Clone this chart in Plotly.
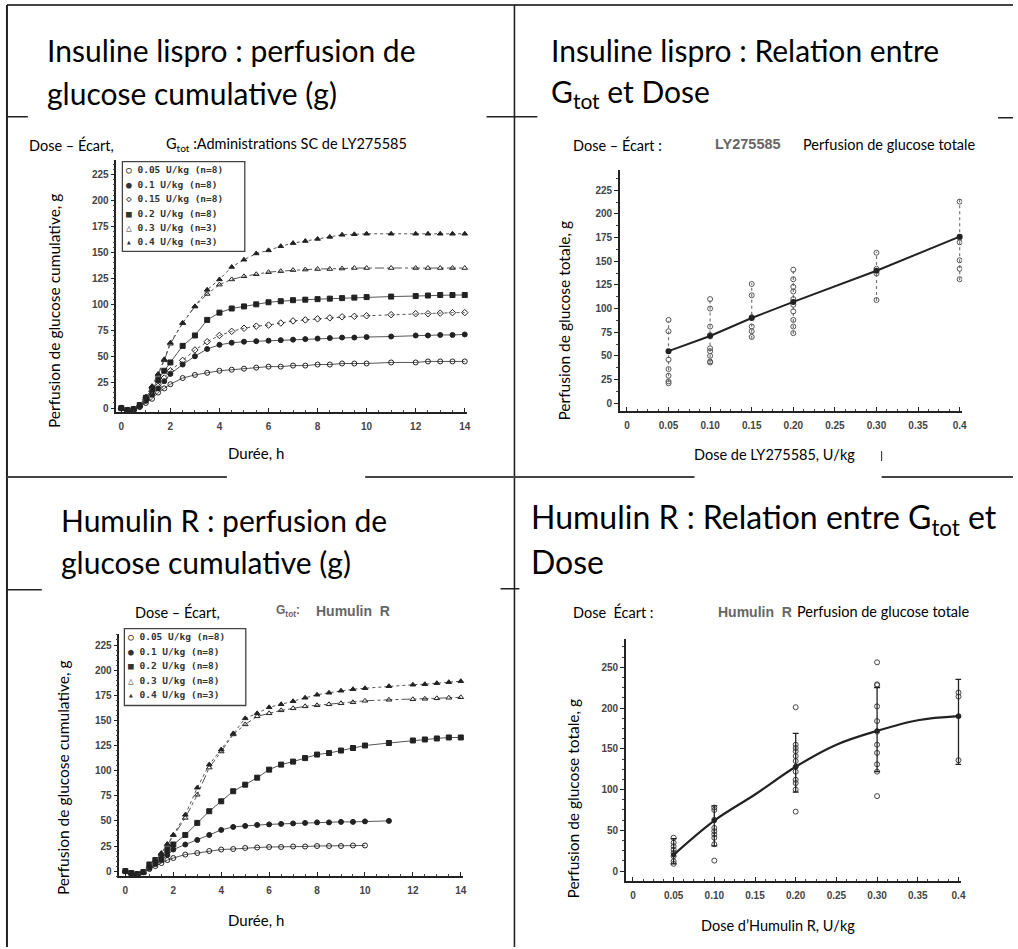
import plotly.graph_objects as go

W, H = 1018, 949

# ---------------- data ----------------
time_h = [0, 0.25, 0.5, 0.75, 1, 1.25, 1.5, 1.75, 2, 2.5, 3, 3.5, 4, 4.5, 5, 5.5, 6,
          6.5, 7, 7.5, 8, 8.5, 9, 9.5, 10, 11, 12, 12.5, 13, 13.5, 14]

lispro_labels = ["0.05 U/kg (n=8)", "0.1 U/kg (n=8)", "0.15 U/kg (n=8)",
                 "0.2 U/kg (n=8)", "0.3 U/kg (n=3)", "0.4 U/kg (n=3)"]
lispro_005 = [0, -2, -2, 1, 5, 9, 15, 19, 23, 29, 32, 34, 36, 37, 38, 39, 40, 40, 41, 41,
              42, 42, 43, 43, 43, 44, 44, 45, 45, 45, 45]
lispro_010 = [0, -2, -1, 2, 7, 13, 19, 26, 33, 42, 50, 57, 61, 63, 64, 64.5, 65, 65.5, 66,
              66.5, 67, 67.5, 68, 68, 68.5, 69, 70, 70, 70.5, 70.5, 71]
lispro_015 = [0, -2, -1, 2, 8, 14, 21, 29, 36, 46, 56, 64, 70, 74, 77, 79, 80, 82, 84, 85,
              86, 87, 88, 88.5, 89, 90, 91, 91, 91.5, 92, 92]
lispro_020 = [0, -2, -1, 3, 10, 18, 27, 36, 44, 60, 70, 85, 92, 96, 98, 100, 102, 103, 104,
              104.5, 105, 105.5, 106, 106.5, 107, 107.5, 108, 108.5, 109, 109, 109]
lispro_030 = [0, -2, -1, 3, 11, 21, 32, 46, 62, 82, 98, 110, 119, 124, 127, 129, 131, 132,
              133, 133.5, 134, 134, 134.5, 135, 135, 135, 135, 135, 135, 135, 135]
lispro_040 = [0, -2, -1, 3, 11, 21, 33, 47, 63, 82, 98, 114, 124, 136, 143, 149, 152, 156,
              159, 161, 163, 165, 167, 167.5, 168, 168, 168, 168, 168, 168, 168]

humulin_labels = ["0.05 U/kg (n=8)", "0.1 U/kg (n=8)", "0.2 U/kg (n=8)",
                  "0.3 U/kg (n=8)", "0.4 U/kg (n=3)"]
humulin_005 = [0, -2, -3, -1, 2, 5, 8, 11, 13, 16.5, 18, 20, 21.5, 22, 23, 23.5, 24, 24,
               24.5, 24.5, 25, 25, 25, 25.5, 25.5, None, None, None, None, None, None]
humulin_010 = [0, -2, -3, -1, 3, 7, 11, 16, 21.5, 26.5, 31, 36, 41, 44, 45, 46, 46.5, 47,
               47.5, 48, 48.5, 48.5, 49, 49, 49.5, 50, None, None, None, None, None]
humulin_020 = [0, -2, -3, -1, 6.6, 11, 15, 21, 26.5, 36, 48, 59.6, 69.5, 79.5, 86, 93, 101,
               106, 109, 112.5, 116, 117.5, 120, 122.5, 125, 127.5, 130, 131, 132, 133, 133]
humulin_030 = [0, -2, -3, -1, 5, 10, 17, 26, 36, 53, 76, 103, 119, 136, 146, 154, 157, 160,
               162, 164, 165, 166, 167, 168, 169.5, 170.5, 171, 171.5, 172, 172.5, 173]
humulin_040 = [0, -2, -3, -1, 5, 11, 18, 27, 36, 56, 83, 106, 121, 137, 152, 157, 163, 166,
               169, 172.5, 175.5, 177.5, 179.5, 181, 182, 184, 185.5, 186, 187, 188, 189]

# total glucose vs dose – lispro
dose_lispro = [0.05, 0.10, 0.15, 0.20, 0.30, 0.40]
mean_lispro = [55, 71, 90, 107, 140, 176]
errp_lispro = [32, 39, 37, 35, 20, 40]
errm_lispro = [33, 29, 22, 34, 32, 46]
indiv_lispro = [[88, 76, 46, 36, 29, 23, 21],
                [110, 100, 81, 72, 58, 55, 50, 44, 43],
                [126, 114, 91, 81, 76, 70],
                [141, 131, 123, 118, 110, 104, 97, 88, 81, 74],
                [159, 142, 137, 109],
                [213, 175, 170, 151, 142, 131]]

# total glucose vs dose – Humulin R
dose_humulin = [0.05, 0.10, 0.20, 0.30, 0.40]
mean_humulin = [20, 62, 128, 172, 190]
errp_humulin = [20, 18, 41, 53, 45]
errm_humulin = [11, 31, 31, 50, 59]
indiv_humulin = [[41, 35, 30.6, 26.5, 22.4, 18.4, 12.2, 9],
                 [78, 75, 63, 53, 49, 45, 41, 33, 13],
                 [201, 155, 151, 147, 141, 135, 128, 122, 112, 108, 100, 73],
                 [256, 229, 228, 202, 184, 171, 155, 145, 131, 122, 92],
                 [219, 214, 190, 136]]
fit_dose_humulin = [0.05, 0.10, 0.15, 0.20, 0.25, 0.30, 0.35, 0.40]
fit_humulin = [20, 62, 94, 128, 155, 172, 185, 190]

dose_ticks = [0, 0.05, 0.10, 0.15, 0.20, 0.25, 0.30, 0.35, 0.40]
dose_ticktext = ["0", "0.05", "0.10", "0.15", "0.20", "0.25", "0.30", "0.35", "0.4"]
time_ticks = [0, 2, 4, 6, 8, 10, 12, 14]

# ---------------- helpers ----------------
def px(x):
    return x / W


def py(y):
    return 1 - y / H


TXT = "Lato"
SCAN = "Liberation Sans"
INK = "#222222"
LINE = "#555555"

fig = go.Figure()

sym_l = ["circle-open", "circle", "diamond-open", "square", "triangle-up-open", "triangle-up"]
dash_l = ["solid", "solid", "dot", "solid", "dashdot", "dot"]
for lab, ys, s, d in zip(lispro_labels,
                         [lispro_005, lispro_010, lispro_015, lispro_020, lispro_030, lispro_040],
                         sym_l, dash_l):
    fig.add_trace(go.Scatter(x=time_h, y=ys, name=lab, mode="lines+markers",
                             xaxis="x", yaxis="y", cliponaxis=False,
                             line=dict(color=LINE, width=1, dash=d),
                             marker=dict(symbol=s, size=5, color=INK, line=dict(width=1, color=INK))))

sym_h = ["circle-open", "circle", "square", "triangle-up-open", "triangle-up"]
dash_h = ["solid", "solid", "solid", "dashdot", "dot"]
for lab, ys, s, d in zip(humulin_labels,
                         [humulin_005, humulin_010, humulin_020, humulin_030, humulin_040],
                         sym_h, dash_h):
    fig.add_trace(go.Scatter(x=time_h, y=ys, name=lab, mode="lines+markers",
                             xaxis="x3", yaxis="y3", cliponaxis=False, connectgaps=False,
                             line=dict(color=LINE, width=1, dash=d),
                             marker=dict(symbol=s, size=5, color=INK, line=dict(width=1, color=INK))))

# lispro dose-response
ex, ey = [], []
for d, m, p, q in zip(dose_lispro, mean_lispro, errp_lispro, errm_lispro):
    ex += [d, d, None]
    ey += [m - q, m + p, None]
fig.add_trace(go.Scatter(x=ex, y=ey, mode="lines", xaxis="x2", yaxis="y2",
                         line=dict(color="#777777", width=1.2, dash="dot"), showlegend=False))
ix, iy = [], []
for d, vals in zip(dose_lispro, indiv_lispro):
    ix += [d] * len(vals)
    iy += vals
fig.add_trace(go.Scatter(x=ix, y=iy, mode="markers", xaxis="x2", yaxis="y2", showlegend=False,
                         marker=dict(symbol="circle-open", size=5, color="#555555",
                                     line=dict(width=1, color="#555555"))))
fig.add_trace(go.Scatter(x=dose_lispro, y=mean_lispro, mode="lines+markers", xaxis="x2",
                         yaxis="y2", showlegend=False, cliponaxis=False,
                         line=dict(color=INK, width=2),
                         marker=dict(symbol="circle", size=6, color=INK)))

# humulin dose-response
hx, hy = [], []
for d, vals in zip(dose_humulin, indiv_humulin):
    hx += [d] * len(vals)
    hy += vals
fig.add_trace(go.Scatter(x=hx, y=hy, mode="markers", xaxis="x4", yaxis="y4", showlegend=False,
                         cliponaxis=False,
                         marker=dict(symbol="circle-open", size=5, color="#444444",
                                     line=dict(width=1, color="#444444"))))
fig.add_trace(go.Scatter(x=dose_humulin, y=mean_humulin, mode="markers", xaxis="x4", yaxis="y4",
                         showlegend=False,
                         error_y=dict(type="data", symmetric=False, array=errp_humulin,
                                      arrayminus=errm_humulin, color=INK, thickness=1.3, width=3),
                         marker=dict(symbol="circle", size=5, color=INK)))
fig.add_trace(go.Scatter(x=fit_dose_humulin, y=fit_humulin, mode="lines", xaxis="x4", yaxis="y4",
                         showlegend=False, line=dict(color=INK, width=2.2, shape="spline")))

# ---------------- axes ----------------
tickfont = dict(family=SCAN, size=10, color="#444444", weight="bold")


def xax(dom, rng, anchor, tickvals, ticktext=None, dtick_minor=None):
    d = dict(domain=[px(dom[0]), px(dom[1])], range=rng, anchor=anchor,
             showline=True, linecolor="#222222", linewidth=1.6, mirror=False,
             showgrid=False, zeroline=False, ticks="inside", ticklen=4, tickwidth=1.3,
             tickcolor="#222222", tickvals=tickvals, tickfont=tickfont, ticklabelstandoff=4)
    if ticktext:
        d["ticktext"] = ticktext
    if dtick_minor:
        d["minor"] = dict(ticks="inside", ticklen=2, dtick=dtick_minor, tickcolor="#444444",
                          showgrid=False)
    return d


def yax(dom, rng, anchor, tickvals, dtick_minor):
    return dict(domain=[py(dom[1]), py(dom[0])], range=rng, anchor=anchor,
                showline=True, linecolor="#222222", linewidth=1.6, showgrid=False,
                zeroline=False, ticks="outside", ticklen=4, tickwidth=1.3, tickcolor="#222222",
                tickvals=tickvals, tickfont=tickfont,
                minor=dict(ticks="outside", ticklen=2, dtick=dtick_minor, tickcolor="#444444",
                           showgrid=False))


cum_ticks = [0, 25, 50, 75, 100, 125, 150, 175, 200, 225]
fig.update_layout(
    xaxis=xax((117, 469), [-0.2, 14.08], "y", time_ticks, dtick_minor=0.5),
    yaxis=yax((160, 413), [-3.85, 239.4], "x", cum_ticks, 5),
    xaxis2=xax((623, 967), [-0.0084, 0.4031], "y2", dose_ticks, dose_ticktext, 0.0125),
    yaxis2=yax((170, 412), [-8.4, 246.8], "x2", cum_ticks, 12.5),
    xaxis3=xax((120, 465), [-0.25, 14.08], "y3", time_ticks, dtick_minor=0.5),
    yaxis3=yax((635, 878), [-5, 236.3], "x3", cum_ticks, 5),
    xaxis4=xax((629, 966), [-0.0086, 0.4034], "y4", dose_ticks, dose_ticktext, 0.0125),
    yaxis4=yax((640, 883), [-12.2, 285], "x4", [0, 50, 100, 150, 200, 250], 12.5),
)

# ---------------- annotations ----------------
ann = []


def text(x, y, t, size, family=TXT, color="#000000", xanchor="left", angle=0, weight="normal"):
    ann.append(dict(x=px(x), y=py(y), xref="paper", yref="paper", text=t, showarrow=False,
                    xanchor=xanchor, yanchor="middle", textangle=angle, borderpad=0,
                    font=dict(family=family, size=size, color=color, weight=weight)))


TS = 30
text(46, 50, "Insuline lispro : perfusion de", TS)
text(46, 93, "glucose cumulative (g)", TS)
text(553, 50, "Insuline lispro : Relation entre", TS)
text(553, 93, "G<sub>tot</sub> et Dose", TS)
text(60, 521, "Humulin R : perfusion de", TS)
text(60, 563, "glucose cumulative (g)", TS)
text(533, 520, "Humulin R : Relation entre G<sub>tot</sub> et", 32)
text(533, 563, "Dose", 32)

SS = 14.5
text(28, 145, "Dose – Écart,", SS)
text(166, 145, "G<sub>tot</sub> :Administrations SC de LY275585", SS)
text(575, 145, "Dose – Écart :", SS)
text(718, 144, "LY275585", 14.5, family=SCAN, color="#666666", weight="bold")
text(806, 145, "Perfusion de glucose totale", SS)
text(135, 613, "Dose – Écart,", SS)
text(276, 612, "G<sub>tot</sub>:", 12, family=SCAN, color="#666666", weight="bold")
text(317, 612, "Humulin  R", 14, family=SCAN, color="#666666", weight="bold")
text(575, 613, "Dose  Écart :", SS)
text(721, 613, "Humulin  R", 14, family=SCAN, color="#666666", weight="bold")
text(800, 613, "Perfusion de glucose totale", SS)

AS = 14.5
YS = 15.5
text(55, 311, "Perfusion de glucose cumulative, g", YS, xanchor="center", angle=-90)
text(257, 454, "Durée, h", 15, xanchor="center")
text(567, 321, "Perfusion de glucose totale, g", YS, xanchor="center", angle=-90)
text(778, 455, "Dose de LY275585, U/kg", AS, xanchor="center")
text(64, 779, "Perfusion de glucose cumulative, g", YS, xanchor="center", angle=-90)
text(257, 922, "Durée, h", 15, xanchor="center")
text(576, 800, "Perfusion de glucose totale, g", YS, xanchor="center", angle=-90)
text(782, 927, "Dose d’Humulin R, U/kg", AS, xanchor="center")

# manual legends
LF = dict(family="DejaVu Sans Mono", size=9.5, color="#333333", weight="bold")
glyph_l = ["○", "●", "◇", "■", "△", "▴"]
for i, (g, lab) in enumerate(zip(glyph_l, lispro_labels)):
    ann.append(dict(x=px(125), y=py(170 + i * 14.5), xref="paper", yref="paper",
                    text=g + " " + lab, showarrow=False, xanchor="left", yanchor="middle",
                    font=LF))
glyph_h = ["○", "●", "■", "△", "▴"]
for i, (g, lab) in enumerate(zip(glyph_h, humulin_labels)):
    ann.append(dict(x=px(127), y=py(638 + i * 14.5), xref="paper", yref="paper",
                    text=g + " " + lab, showarrow=False, xanchor="left", yanchor="middle",
                    font=LF))

# ---------------- frame shapes ----------------
shapes = []


def seg(x0, y0, x1, y1, w=1.6, c="#222222"):
    shapes.append(dict(type="line", xref="paper", yref="paper", x0=px(x0), y0=py(y0),
                       x1=px(x1), y1=py(y1), line=dict(color=c, width=w)))


seg(7, 5, 1018, 5, 2, "#444444")
seg(7, 5, 7, 949, 2)
seg(517, 5, 517, 949, 1.6)
seg(7, 478, 228, 478, 2, "#444444")
seg(367, 478, 698, 478, 2, "#444444")
seg(886, 478, 1018, 478, 2, "#444444")
seg(7, 117, 28, 117, 1.5)
seg(489, 117, 540, 117, 1.5)
seg(1003, 118, 1018, 118, 1.5)
seg(7, 591, 42, 591, 1.5)
seg(503, 590, 522, 590, 1.5)
seg(886, 452, 886, 462, 1)
# legend frames
shapes.append(dict(type="rect", xref="paper", yref="paper", x0=px(123), x1=px(246),
                   y0=py(162), y1=py(252), line=dict(color="#444444", width=1.3)))
shapes.append(dict(type="rect", xref="paper", yref="paper", x0=px(125), x1=px(247),
                   y0=py(630), y1=py(707), line=dict(color="#444444", width=1.3)))

fig.update_layout(width=W, height=H, margin=dict(l=0, r=0, t=0, b=0),
                  paper_bgcolor="white", plot_bgcolor="white", showlegend=False,
                  annotations=ann, shapes=shapes)

fig.write_html("out.html", config={"displayModeBar": False},
               post_script="document.body.style.margin='0px';")
